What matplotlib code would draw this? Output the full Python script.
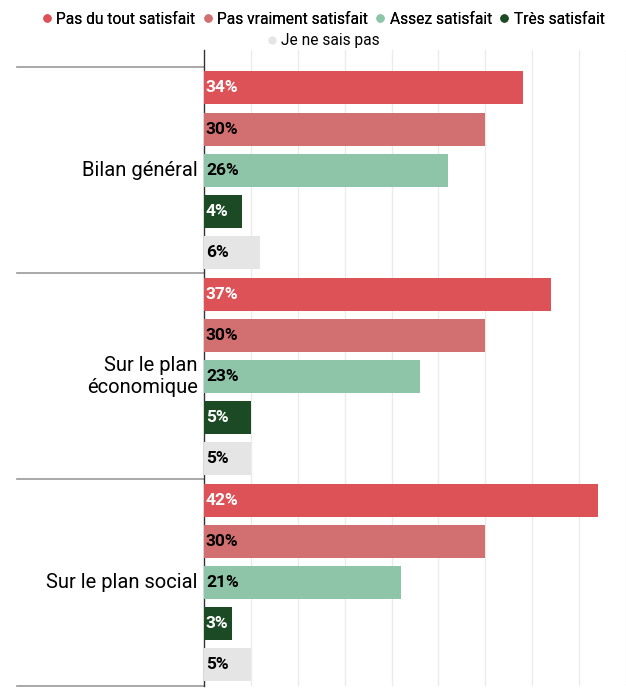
import numpy as np
import matplotlib.pyplot as plt
from matplotlib.lines import Line2D
import matplotlib.transforms as mtransforms

plt.rcParams['font.family'] = ['Roboto', 'DejaVu Sans']

categories = ['Bilan général', 'Sur le plan\néconomique', 'Sur le plan social']
series = ['Pas du tout satisfait', 'Pas vraiment satisfait', 'Assez satisfait',
          'Très satisfait', 'Je ne sais pas']
pas_du_tout = [34, 37, 42]
pas_vraiment = [30, 30, 30]
assez = [26, 23, 21]
tres = [4, 5, 3]
ne_sait_pas = [6, 5, 5]

colors = ['#dc5257', '#d27071', '#8ec4a8', '#1b4a24', '#e5e5e5']
text_colors = ['white', 'black', 'black', 'white', 'black']

values = [pas_du_tout, pas_vraiment, assez, tres, ne_sait_pas]
n_ser = len(series)

fig = plt.figure(figsize=(6.26, 6.88), dpi=100)
W, H = 626, 688
ax = fig.add_axes([204 / W, 2 / H, 422 / W, 636 / H])

for s in range(n_ser):
    ys = [c * n_ser + s for c in range(len(categories))]
    ax.barh(ys, values[s], height=0.8, color=colors[s], zorder=3)
    for y, v in zip(ys, values[s]):
        ax.text(0.2, y, f'{v}%', va='center', ha='left', fontsize=12.5,
                fontweight='bold', color=text_colors[s], zorder=4)

ax.set_xlim(0, 45)
ax.set_ylim(14.51, -0.92)
ax.set_xticks(np.arange(5, 46, 5))
ax.set_xticklabels([])
ax.tick_params(length=0)
ax.set_yticks([])
ax.grid(axis='x', color='#ebebeb', lw=1, zorder=0)
for sp in ['top', 'right', 'bottom']:
    ax.spines[sp].set_visible(False)
ax.spines['left'].set_color('#333333')
ax.spines['left'].set_linewidth(1)

trans = mtransforms.blended_transform_factory(ax.transAxes, ax.transData)
for c in range(len(categories) + 1):
    yb = c * n_ser - 0.5
    ax.plot([-187 / 422, 0], [yb, yb], color='#999999', lw=1.2,
            transform=trans, clip_on=False)
for c, name in enumerate(categories):
    ax.text(-6 / 422, c * n_ser + 2, name, transform=trans, ha='right',
            va='center', fontsize=14.5, linespacing=1.2)

handles = [Line2D([], [], marker='o', ls='', markersize=5, color=col)
           for col in colors]
leg1 = fig.legend(handles[:4], series[:4], loc='center', ncol=4,
                  bbox_to_anchor=(0.514, 1 - 19 / H), frameon=False,
                  fontsize=11.2, handletextpad=0.1, columnspacing=0.3,
                  handlelength=1)
fig.add_artist(leg1)
fig.legend(handles[4:], series[4:], loc='center',
           bbox_to_anchor=(0.514, 1 - 41 / H), frameon=False,
           fontsize=11.2, handletextpad=0.1, handlelength=1)

fig.savefig('out.png', dpi=100)
